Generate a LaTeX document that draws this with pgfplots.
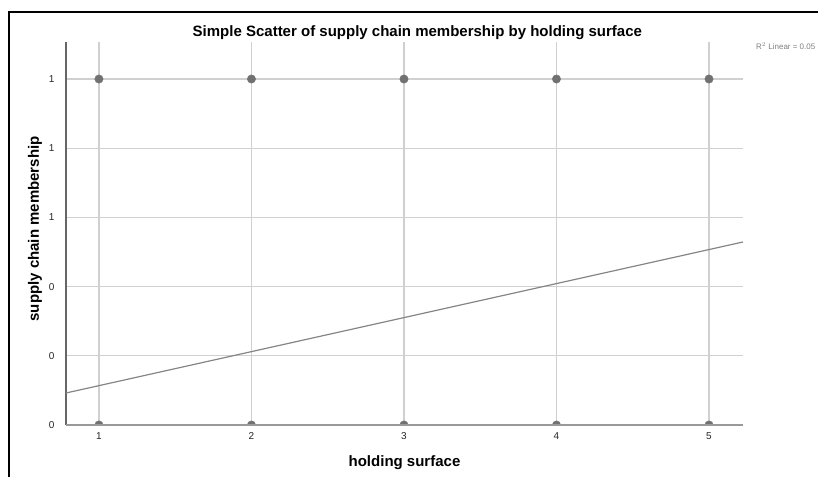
\documentclass[border=0pt]{standalone}
\usepackage{fontspec}
\setmainfont{Liberation Sans}
\usepackage{pgfplots}
\pgfplotsset{compat=1.18}
\definecolor{gridgray}{HTML}{D0D0D0}
\definecolor{dotgray}{HTML}{717171}
\definecolor{fitgray}{HTML}{858585}
\definecolor{axgray}{HTML}{999999}
\begin{document}
\begin{tikzpicture}[x=1pt,y=1pt]
\useasboundingbox (0,0) rectangle (818,477);
\clip (0,0) rectangle (818,477);
% frame of the cropped output window
\draw[black, line width=2.2pt] (9,0) -- (9,465) -- (818,465);
\begin{axis}[
  at={(66pt,52pt)}, anchor=south west,
  scale only axis,
  width=677pt, height=383pt,
  xmin=0.784, xmax=5.223,
  ymin=0, ymax=1.107,
  xtick={1,2,3,4,5},
  ytick={0,0.2,0.4,0.6,0.8,1},
  yticklabels={0,0,0,1,1,1},
  axis x line*=bottom,
  axis y line*=left,
  axis line style={-, line width=1.4pt, axgray},
  y axis line style={line width=1.1pt, black!60},
  major tick length=0pt,
  grid=major,
  grid style={line width=1.2pt, gridgray},
  tick label style={font=\fontsize{10}{12}\selectfont, text=black!85},
  /pgf/number format/assume math mode=true,
  xticklabel style={yshift=-4pt},
  yticklabel style={xshift=-8pt},
  title={Simple Scatter of supply chain membership by holding surface},
  every axis title/.style={font=\bfseries\fontsize{15}{18}\selectfont, at={(rel axis cs:0.519,1)}, anchor=center, yshift=9pt},
  xlabel={holding surface},
  ylabel={supply chain membership},
  every axis x label/.style={font=\bfseries\fontsize{15}{18}\selectfont, at={(axis description cs:0.5,-0.099)}, anchor=center},
  every axis y label/.style={font=\bfseries\fontsize{15}{18}\selectfont, at={(axis description cs:-0.0458,0.512)}, anchor=center, rotate=90},
  clip marker paths=true,
]
  \addplot[fitgray, line width=1.2pt, mark=none] coordinates {
    (0.784, 0.0925)
    (5.223, 0.529)
  };
  \addplot[only marks, mark=*, mark size=4.2pt, dotgray, mark options={draw=dotgray, fill=dotgray}] coordinates {
    (1,1) (2,1) (3,1) (4,1) (5,1)
    (1,0) (2,0) (3,0) (4,0) (5,0)
  };
\end{axis}
\draw[axgray, line width=1.4pt] (66,52) -- (743,52);
\node[anchor=west, font=\fontsize{8}{10}\selectfont, text=black!50, inner sep=0pt] at (756,431) {R$^{2}$ Linear = 0.05};
\end{tikzpicture}
\end{document}
